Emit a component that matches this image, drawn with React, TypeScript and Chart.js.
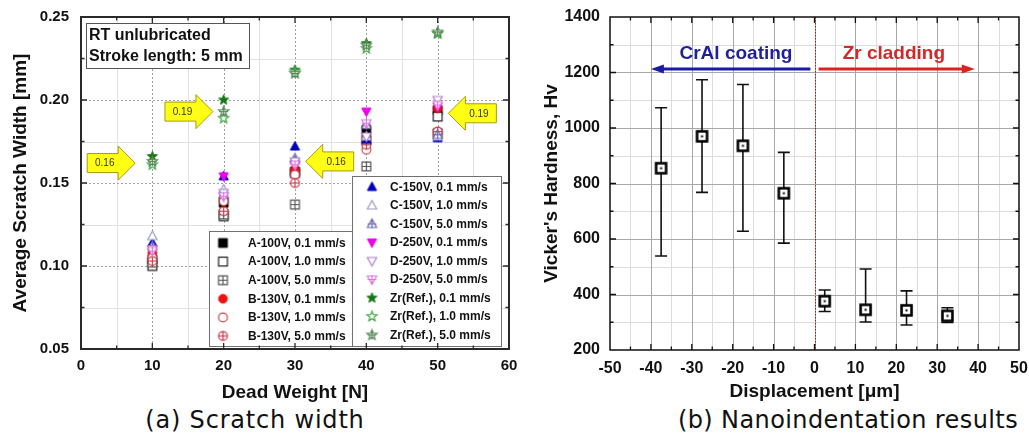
import React, { useEffect, useRef } from 'react';
import { Chart, registerables } from 'chart.js';

Chart.register(...registerables);
Chart.defaults.font.family = '"Liberation Sans", Arial, sans-serif';

// ---------------- (a) Scratch width data ----------------
const deadWeight = [10, 20, 30, 40, 50];
const seriesNames = [
  'A-100V, 0.1 mm/s', 'A-100V, 1.0 mm/s', 'A-100V, 5.0 mm/s',
  'B-130V, 0.1 mm/s', 'B-130V, 1.0 mm/s', 'B-130V, 5.0 mm/s',
  'C-150V, 0.1 mm/s', 'C-150V, 1.0 mm/s', 'C-150V, 5.0 mm/s',
  'D-250V, 0.1 mm/s', 'D-250V, 1.0 mm/s', 'D-250V, 5.0 mm/s',
  'Zr(Ref.), 0.1 mm/s', 'Zr(Ref.), 1.0 mm/s', 'Zr(Ref.), 5.0 mm/s',
];
const a100_01 = [0.104, 0.138, 0.157, 0.182, 0.194];
const a100_10 = [0.100, 0.130, 0.156, 0.176, 0.190];
const a100_50 = [0.102, 0.131, 0.137, 0.160, 0.180];
const b130_01 = [0.108, 0.141, 0.158, 0.175, 0.195];
const b130_10 = [0.105, 0.139, 0.155, 0.170, 0.179];
const b130_50 = [0.103, 0.133, 0.150, 0.173, 0.181];
const c150_01 = [0.114, 0.154, 0.172, 0.176, 0.177];
const c150_10 = [0.118, 0.146, 0.165, 0.178, 0.178];
const c150_50 = [0.112, 0.143, 0.164, 0.185, 0.179];
const d250_01 = [0.110, 0.154, 0.161, 0.193, 0.196];
const d250_10 = [0.110, 0.144, 0.163, 0.178, 0.200];
const d250_50 = [0.109, 0.142, 0.161, 0.186, 0.197];
const zr_01 = [0.166, 0.200, 0.218, 0.234, 0.240];
const zr_10 = [0.161, 0.189, 0.217, 0.231, 0.240];
const zr_50 = [0.163, 0.193, 0.216, 0.233, 0.241];
const scratchSeries = [
  a100_01, a100_10, a100_50, b130_01, b130_10, b130_50,
  c150_01, c150_10, c150_50, d250_01, d250_10, d250_50, zr_01, zr_10, zr_50,
];

const calloutText = ['0.16', '0.19', '0.16', '0.19'];
const calloutTipX = [7.6, 18.5, 31.5, 51.5];
const calloutTipY = [0.162, 0.193, 0.163, 0.192];
const calloutDir = [1, 1, -1, -1];
const noteLines = ['RT unlubricated', 'Stroke length: 5 mm'];

// ---------------- (b) Nanoindentation data ----------------
const hvDepth = [-37.5, -27.5, -17.5, -7.5, 2.5, 12.5, 22.5, 32.5];
const hvMean = [855, 970, 936, 765, 376, 345, 343, 323];
const hvLow = [539, 768, 628, 585, 339, 301, 290, 299];
const hvHigh = [1073, 1174, 1157, 912, 416, 492, 413, 352];

const regionNames = ['CrAl coating', 'Zr cladding'];
const regionLabelX = [-19.2, 19.4];
const regionArrowStart = [-1, 1];
const regionArrowEnd = [-40, 39.2];
const regionArrowY = 1213;
const regionLabelY = 1267;
const interfaceX = 0;

// ---------------- styles ----------------
const markerSpecs: [string, string, string][] = [
  ['square', '#000000', 'fill'], ['square', '#222222', 'open'], ['square', '#555555', 'plus'],
  ['circle', '#ee1111', 'fill'], ['circle', '#cc4444', 'open'], ['circle', '#cc3344', 'plus'],
  ['triUp', '#0000bb', 'fill'], ['triUp', '#9a9acc', 'open'], ['triUp', '#6a6ab0', 'plus'],
  ['triDown', '#ee00ee', 'fill'], ['triDown', '#b080cc', 'open'], ['triDown', '#dd77dd', 'plus'],
  ['star', '#117711', 'fill'], ['star', '#44aa44', 'open'], ['star', '#558855', 'plus'],
];
const FONT = '"Liberation Sans", Arial, sans-serif';

function shapePath(ctx: CanvasRenderingContext2D, shape: string, cx: number, cy: number, r: number) {
  ctx.beginPath();
  if (shape === 'square') ctx.rect(cx - r, cy - r, 2 * r, 2 * r);
  else if (shape === 'circle') ctx.arc(cx, cy, r, 0, Math.PI * 2);
  else if (shape === 'triUp') {
    ctx.moveTo(cx, cy - r * 1.15); ctx.lineTo(cx + r * 1.05, cy + r * 0.8); ctx.lineTo(cx - r * 1.05, cy + r * 0.8); ctx.closePath();
  } else if (shape === 'triDown') {
    ctx.moveTo(cx, cy + r * 1.15); ctx.lineTo(cx + r * 1.05, cy - r * 0.8); ctx.lineTo(cx - r * 1.05, cy - r * 0.8); ctx.closePath();
  } else {
    for (let k = 0; k < 10; k++) {
      const ang = -Math.PI / 2 + (k * Math.PI) / 5;
      const rad = k % 2 ? r * 0.5 : r * 1.2;
      const px = cx + rad * Math.cos(ang), py = cy + rad * Math.sin(ang);
      if (k === 0) ctx.moveTo(px, py); else ctx.lineTo(px, py);
    }
    ctx.closePath();
  }
}

function makeMarker(shape: string, color: string, mode: string, r = 4.4): HTMLCanvasElement {
  const s = Math.ceil(r * 2.8) + 2;
  const c = document.createElement('canvas');
  c.width = s; c.height = s;
  const ctx = c.getContext('2d')!;
  const cx = s / 2, cy = s / 2;
  shapePath(ctx, shape, cx, cy, r);
  if (mode === 'fill') {
    ctx.fillStyle = color; ctx.fill();
    ctx.strokeStyle = color; ctx.lineWidth = 1; ctx.stroke();
  } else {
    ctx.fillStyle = '#ffffff'; ctx.fill();
    ctx.strokeStyle = color; ctx.lineWidth = 1.2; ctx.stroke();
    if (mode === 'plus') {
      ctx.beginPath();
      ctx.moveTo(cx - r, cy); ctx.lineTo(cx + r, cy);
      ctx.moveTo(cx, cy - r); ctx.lineTo(cx, cy + r);
      ctx.stroke();
    }
  }
  return c;
}

function makeHvMarker(): HTMLCanvasElement {
  const c = document.createElement('canvas');
  c.width = 15; c.height = 15;
  const ctx = c.getContext('2d')!;
  ctx.fillStyle = '#fff';
  ctx.fillRect(2.5, 2.5, 10, 10);
  ctx.strokeStyle = '#000'; ctx.lineWidth = 2.6;
  ctx.strokeRect(2.5, 2.5, 10, 10);
  ctx.fillStyle = '#000';
  ctx.fillRect(6.5, 6.5, 2, 2);
  return c;
}

const mids = (v: number[]) => v.slice(1).map((val, i) => (val + v[i]) / 2);

function drawGrid(chart: any, o: any) {
  const { ctx, chartArea: a, scales } = chart;
  const x = scales.x, y = scales.y;
  const xv: number[] = x.ticks.map((t: any) => t.value);
  const yv: number[] = y.ticks.map((t: any) => t.value);
  ctx.save();
  ctx.lineWidth = 1;
  ctx.strokeStyle = o.minorColor; ctx.setLineDash(o.minorDash);
  ctx.beginPath();
  for (const v of mids(xv)) { const p = Math.round(x.getPixelForValue(v)) + 0.5; ctx.moveTo(p, a.top); ctx.lineTo(p, a.bottom); }
  for (const v of mids(yv)) { const p = Math.round(y.getPixelForValue(v)) + 0.5; ctx.moveTo(a.left, p); ctx.lineTo(a.right, p); }
  ctx.stroke();
  ctx.strokeStyle = o.majorColor; ctx.setLineDash(o.majorDash);
  ctx.beginPath();
  for (const v of xv.slice(1, -1)) { const p = Math.round(x.getPixelForValue(v)) + 0.5; ctx.moveTo(p, a.top); ctx.lineTo(p, a.bottom); }
  for (const v of yv.slice(1, -1)) { const p = Math.round(y.getPixelForValue(v)) + 0.5; ctx.moveTo(a.left, p); ctx.lineTo(a.right, p); }
  ctx.stroke();
  ctx.restore();
}

function drawFrame(chart: any, o: any) {
  const { ctx, chartArea: a, scales } = chart;
  const x = scales.x, y = scales.y;
  const xv: number[] = x.ticks.map((t: any) => t.value);
  const yv: number[] = y.ticks.map((t: any) => t.value);
  ctx.save();
  ctx.strokeStyle = o.color;
  ctx.lineWidth = 1.3;
  ctx.beginPath();
  const tick = (vals: number[], len: number) => {
    for (const v of vals) {
      const p = x.getPixelForValue(v);
      ctx.moveTo(p, a.bottom); ctx.lineTo(p, a.bottom - len);
      ctx.moveTo(p, a.top); ctx.lineTo(p, a.top + len);
    }
  };
  const tickY = (vals: number[], len: number) => {
    for (const v of vals) {
      const p = y.getPixelForValue(v);
      ctx.moveTo(a.left, p); ctx.lineTo(a.left + len, p);
      ctx.moveTo(a.right, p); ctx.lineTo(a.right - len, p);
    }
  };
  tick(xv.slice(1, -1), 6); tick(mids(xv), 3.5);
  tickY(yv.slice(1, -1), 6); tickY(mids(yv), 3.5);
  ctx.stroke();
  ctx.lineWidth = o.width;
  ctx.strokeRect(a.left, a.top, a.right - a.left, a.bottom - a.top);
  ctx.restore();
}

function drawYellowArrow(ctx: CanvasRenderingContext2D, tx: number, ty: number, dir: number, label: string) {
  const base = tx - dir * 48, neck = tx - dir * 17;
  ctx.save();
  ctx.beginPath();
  ctx.moveTo(base, ty - 9.5);
  ctx.lineTo(neck, ty - 9.5);
  ctx.lineTo(neck, ty - 17);
  ctx.lineTo(tx, ty);
  ctx.lineTo(neck, ty + 17);
  ctx.lineTo(neck, ty + 9.5);
  ctx.lineTo(base, ty + 9.5);
  ctx.closePath();
  ctx.fillStyle = '#ffff14';
  ctx.fill();
  ctx.strokeStyle = '#a89a10';
  ctx.lineWidth = 1;
  ctx.stroke();
  ctx.fillStyle = '#333';
  ctx.font = `10px ${FONT}`;
  ctx.textAlign = 'center';
  ctx.textBaseline = 'middle';
  ctx.fillText(label, (base + neck) / 2 + dir * 2, ty + 0.5);
  ctx.restore();
}

function drawLegendBox(ctx: CanvasRenderingContext2D, datasets: any[], idx: number[], left: number, top: number,
  w: number, h: number, mdx: number, tdx: number, firstDy: number, rowH: number) {
  ctx.save();
  ctx.fillStyle = '#fff';
  ctx.fillRect(left, top, w, h);
  ctx.strokeStyle = '#707070'; ctx.lineWidth = 1;
  ctx.strokeRect(left + 0.5, top + 0.5, w, h);
  ctx.font = `bold 12px ${FONT}`;
  ctx.fillStyle = '#111';
  ctx.textAlign = 'left';
  ctx.textBaseline = 'middle';
  idx.forEach((di, k) => {
    const yy = top + firstDy + k * rowH;
    const img = datasets[di].pointStyle as HTMLCanvasElement;
    ctx.drawImage(img, left + mdx - img.width / 2, yy - img.height / 2);
    ctx.fillText(datasets[di].label, left + tdx, yy + 0.5);
  });
  ctx.restore();
}

const scratchDecor = {
  id: 'scratchDecor',
  beforeDatasetsDraw(chart: any) {
    drawGrid(chart, { majorColor: '#a0a0a0', majorDash: [2, 2], minorColor: '#e2e2e2', minorDash: [] });
  },
  afterDatasetsDraw(chart: any) {
    const { ctx, chartArea: a, scales: { x, y } } = chart;
    calloutText.forEach((t, i) => {
      drawYellowArrow(ctx, x.getPixelForValue(calloutTipX[i]), y.getPixelForValue(calloutTipY[i]), calloutDir[i], t);
    });
    // note box
    ctx.save();
    const bl = a.left + 5, bt = a.top + 6;
    ctx.fillStyle = '#fff';
    ctx.fillRect(bl, bt, 163, 45);
    ctx.strokeStyle = '#555'; ctx.lineWidth = 1;
    ctx.strokeRect(bl + 0.5, bt + 0.5, 163, 45);
    ctx.fillStyle = '#111';
    ctx.font = `bold 16px ${FONT}`;
    ctx.textAlign = 'left'; ctx.textBaseline = 'middle';
    noteLines.forEach((l, i) => ctx.fillText(l, bl + 3, bt + 13 + i * 21));
    ctx.restore();
    // legends
    const ds = chart.data.datasets;
    const rw = 149, rh = 170;
    const rl = a.right - 8 - rw, rt = a.bottom - 3 - rh;
    drawLegendBox(ctx, ds, [0, 1, 2, 3, 4, 5], a.left + 128, a.bottom - 3 - 115, 150, 115, 14, 39, 12, 18.6);
    drawLegendBox(ctx, ds, [6, 7, 8, 9, 10, 11, 12, 13, 14], rl, rt, rw, rh, 20, 38, 11, 18.5);
    drawFrame(chart, { color: '#2a2a2a', width: 2 });
  },
};

const hvDecor = {
  id: 'hvDecor',
  beforeDatasetsDraw(chart: any) {
    drawGrid(chart, { majorColor: '#a8a8a8', majorDash: [], minorColor: '#dcdcdc', minorDash: [] });
    const { ctx, chartArea: a, scales: { x, y } } = chart;
    ctx.save();
    const px = Math.round(x.getPixelForValue(interfaceX)) + 0.5;
    ctx.strokeStyle = '#b01818'; ctx.lineWidth = 1; ctx.setLineDash([1.5, 1.5]);
    ctx.beginPath(); ctx.moveTo(px, a.top); ctx.lineTo(px, a.bottom); ctx.stroke();
    ctx.setLineDash([]);
    ctx.strokeStyle = '#111'; ctx.lineWidth = 1.6;
    ctx.beginPath();
    hvDepth.forEach((d, i) => {
      const cx = x.getPixelForValue(d);
      const yl = y.getPixelForValue(hvLow[i]), yh = y.getPixelForValue(hvHigh[i]);
      ctx.moveTo(cx, yl); ctx.lineTo(cx, yh);
      ctx.moveTo(cx - 6, yl); ctx.lineTo(cx + 6, yl);
      ctx.moveTo(cx - 6, yh); ctx.lineTo(cx + 6, yh);
    });
    ctx.stroke();
    const colors = ['#1a1aa8', '#dd2020'];
    const textColors = ['#1f1f9a', '#d42828'];
    regionNames.forEach((name, i) => {
      const x0 = x.getPixelForValue(regionArrowStart[i]);
      const x1 = x.getPixelForValue(regionArrowEnd[i]);
      const yy = y.getPixelForValue(regionArrowY);
      const dir = Math.sign(x1 - x0);
      ctx.strokeStyle = colors[i]; ctx.fillStyle = colors[i]; ctx.lineWidth = 3;
      ctx.beginPath(); ctx.moveTo(x0, yy); ctx.lineTo(x1 - dir * 10, yy); ctx.stroke();
      ctx.beginPath();
      ctx.moveTo(x1, yy); ctx.lineTo(x1 - dir * 13, yy - 4.5); ctx.lineTo(x1 - dir * 13, yy + 4.5); ctx.closePath();
      ctx.fill();
      ctx.fillStyle = textColors[i];
      ctx.font = `bold 19px ${FONT}`;
      ctx.textAlign = 'center'; ctx.textBaseline = 'middle';
      ctx.fillText(name, x.getPixelForValue(regionLabelX[i]), y.getPixelForValue(regionLabelY));
    });
    ctx.restore();
  },
  afterDatasetsDraw(chart: any) {
    drawFrame(chart, { color: '#111', width: 1.5 });
  },
};

function ScratchChart() {
  const ref = useRef<HTMLCanvasElement>(null);
  useEffect(() => {
    const datasets = seriesNames.map((name, i) => {
      const [shape, color, mode] = markerSpecs[i];
      return {
        label: name,
        data: scratchSeries[i].map((v, j) => ({ x: deadWeight[j], y: v })),
        pointStyle: makeMarker(shape, color, mode),
        showLine: false,
        order: seriesNames.length - i,
      };
    });
    const chart = new Chart(ref.current!, {
      type: 'scatter',
      data: { datasets: datasets as any },
      options: {
        animation: false,
        responsive: false,
        events: [],
        layout: { padding: { left: 0, top: 17, right: 11, bottom: 0 } },
        plugins: { legend: { display: false }, tooltip: { enabled: false } },
        scales: {
          x: {
            type: 'linear', min: 0, max: 60,
            grid: { display: false }, border: { display: false },
            ticks: { stepSize: 10, padding: 0, color: '#111', font: { size: 15, weight: 'bold' }, callback: (v: any) => String(v) },
            title: { display: true, text: 'Dead Weight [N]', color: '#111', font: { size: 19, weight: 'bold' }, padding: { top: 0, bottom: 0 } },
            afterFit: (s: any) => { s.height = 55; },
          },
          y: {
            type: 'linear', min: 0.05, max: 0.25,
            grid: { display: false }, border: { display: false },
            ticks: { stepSize: 0.05, padding: 4, color: '#111', font: { size: 15, weight: 'bold' }, callback: (v: any) => Number(v).toFixed(2) },
            title: { display: true, text: 'Average Scratch Width [mm]', color: '#111', font: { size: 19, weight: 'bold' }, padding: { top: 9, bottom: 0 } },
            afterFit: (s: any) => { s.width = 81; },
          },
        },
      } as any,
      plugins: [scratchDecor],
    });
    return () => chart.destroy();
  }, []);
  return <canvas ref={ref} width={520} height={404} style={{ position: 'absolute', left: 0, top: 0 }} />;
}

function HardnessChart() {
  const ref = useRef<HTMLCanvasElement>(null);
  useEffect(() => {
    const chart = new Chart(ref.current!, {
      type: 'scatter',
      data: {
        datasets: [{
          label: 'Hardness',
          data: hvDepth.map((d, i) => ({ x: d, y: hvMean[i] })),
          pointStyle: makeHvMarker(),
          showLine: false,
        }] as any,
      },
      options: {
        animation: false,
        responsive: false,
        events: [],
        layout: { padding: { left: 0, top: 17, right: 10, bottom: 0 } },
        plugins: { legend: { display: false }, tooltip: { enabled: false } },
        scales: {
          x: {
            type: 'linear', min: -50, max: 50,
            grid: { display: false }, border: { display: false },
            ticks: { stepSize: 10, padding: 1, color: '#111', font: { size: 16, weight: 'bold' }, callback: (v: any) => String(v) },
            title: { display: true, text: 'Displacement [μm]', color: '#111', font: { size: 19, weight: 'bold' }, padding: { top: 0, bottom: 1 } },
            afterFit: (s: any) => { s.height = 54; },
          },
          y: {
            type: 'linear', min: 200, max: 1400,
            grid: { display: false }, border: { display: false },
            ticks: { stepSize: 200, padding: 2, color: '#111', font: { size: 16, weight: 'bold' }, callback: (v: any) => String(v) },
            title: { display: true, text: "Vicker's Hardness, Hv", color: '#111', font: { size: 19, weight: 'bold' }, padding: { top: 20, bottom: 0 } },
            afterFit: (s: any) => { s.width = 90; },
          },
        },
      } as any,
      plugins: [hvDecor],
    });
    return () => chart.destroy();
  }, []);
  return <canvas ref={ref} width={509} height={404} style={{ position: 'absolute', left: 520, top: 0 }} />;
}

export default function App() {
  const cap: React.CSSProperties = {
    position: 'absolute', top: 405, height: 30, lineHeight: '30px', textAlign: 'center',
    fontFamily: '"DejaVu Sans", sans-serif', fontSize: 24, color: '#111', letterSpacing: '0.8px', whiteSpace: 'nowrap',
  };
  return (
    <div style={{ position: 'absolute', left: 0, top: 0, width: 1029, height: 436, background: '#fff', overflow: 'hidden' }}>
      <ScratchChart />
      <HardnessChart />
      <div style={{ ...cap, left: 55, width: 400 }}>(a) Scratch width</div>
      <div style={{ ...cap, left: 648, width: 400, letterSpacing: '0.4px' }}>(b) Nanoindentation results</div>
    </div>
  );
}
